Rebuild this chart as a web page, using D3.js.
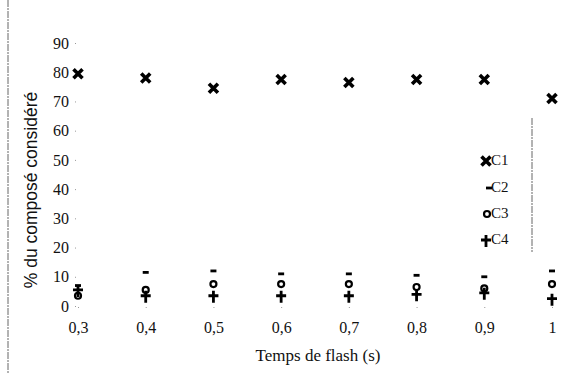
<!DOCTYPE html>
<html>
<head>
<meta charset="utf-8">
<script src="https://cdn.jsdelivr.net/npm/d3@7"></script>
<style>
body { margin: 0; background: #fff; }
text { font-family: "Liberation Serif", serif; fill: #111; }
</style>
</head>
<body>
<svg id="screen" width="567" height="374"></svg>
<script>
const screenEl = document.querySelector("#screen");

// data
const categories = ["0,3", "0,4", "0,5", "0,6", "0,7", "0,8", "0,9", "1"];
const yTicks = [0, 10, 20, 30, 40, 50, 60, 70, 80, 90];
const c1 = [79.5, 78, 74.5, 77.5, 76.5, 77.5, 77.5, 71];
const c2 = [7, 11.5, 12, 11, 11, 10.5, 10, 12];
const c3 = [3.5, 5.5, 7.5, 7.5, 7.5, 6.5, 6, 7.5];
const c4 = [5.5, 3.5, 3.5, 3.5, 3.5, 4, 4.5, 2.5];
const seriesNames = ["C1", "C2", "C3", "C4"];

var svg = d3.select(screenEl);

var x = d3.scalePoint().domain(categories).range([78, 552]);
var y = d3.scaleLinear().domain([0, 90]).range([306, 43]);

// scan borders
svg.append("line").attr("x1", 8).attr("x2", 8).attr("y1", 0).attr("y2", 374)
  .attr("stroke", "#666").attr("stroke-width", 1).attr("stroke-dasharray", "7,1,2,1");
svg.append("line").attr("x1", 532).attr("x2", 532).attr("y1", 118).attr("y2", 252)
  .attr("stroke", "#666").attr("stroke-width", 1).attr("stroke-dasharray", "7,1,2,1");

// axes
var yAxis = svg.append("g").attr("transform", "translate(76,0)")
  .call(d3.axisLeft(y).tickValues(yTicks).tickSize(1).tickPadding(6));
var xAxis = svg.append("g").attr("transform", "translate(0,307)")
  .call(d3.axisBottom(x).tickSize(1).tickPadding(14));
svg.selectAll(".domain").remove();
svg.selectAll(".tick line").attr("stroke", "#999");
svg.selectAll(".tick text").style("font-family", "Liberation Serif, serif").style("font-size", "16px").attr("fill", "#111");

// axis titles
svg.append("text").attr("x", 318).attr("y", 361).attr("text-anchor", "middle")
  .style("font-size", "17px").text("Temps de flash (s)");
svg.append("text").attr("transform", "translate(37,190) rotate(-90)").attr("text-anchor", "middle")
  .style("font-family", "Liberation Sans, sans-serif").style("font-size", "17.5px")
  .text("% du composé considéré");

// markers
function drawX(g) {
  g.append("path").attr("d", "M-4.5,-4.5L4.5,4.5M4.5,-4.5L-4.5,4.5")
    .attr("stroke", "#000").attr("stroke-width", 3.6).attr("fill", "none");
}
function drawDash(g) {
  g.append("path").attr("d", "M-3,0L3,0")
    .attr("stroke", "#000").attr("stroke-width", 2.8).attr("fill", "none");
}
function drawCircle(g) {
  g.append("circle").attr("r", 3)
    .attr("stroke", "#000").attr("stroke-width", 2.2).attr("fill", "none");
}
function drawPlus(g) {
  g.append("path").attr("d", "M-5,0L5,0M0,-5L0,7")
    .attr("stroke", "#000").attr("stroke-width", 2.8).attr("fill", "none");
}
var drawers = [drawX, drawDash, drawCircle, drawPlus];
var allSeries = [c1, c2, c3, c4];

allSeries.forEach(function(vals, si) {
  svg.append("g").selectAll("g").data(vals).enter().append("g")
    .attr("transform", function(d, i) { return "translate(" + x(categories[i]) + "," + y(d) + ")"; })
    .each(function() { drawers[si](d3.select(this)); });
});

// legend
var legendY = [161, 188, 214, 240];
var legendX = [486, 489, 487, 486];
seriesNames.forEach(function(name, i) {
  var g = svg.append("g").attr("transform", "translate(" + legendX[i] + "," + legendY[i] + ")");
  drawers[i](g);
  svg.append("text").attr("x", 491).attr("y", legendY[i] + 4)
    .style("font-size", "15px").text(name);
});
</script>
</body>
</html>
